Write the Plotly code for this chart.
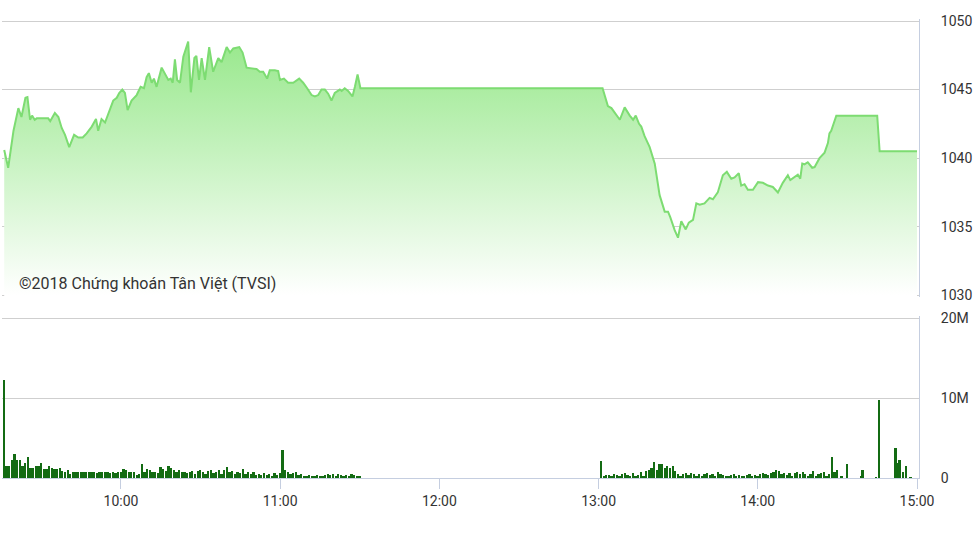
import plotly.graph_objects as go
import pandas as pd

DATE = "2018-06-01"

# ---- price (VN-Index intraday) ----
price_times = [
    "09:16:00", "09:17:30", "09:19:30", "09:21:20", "09:22:30", "09:24:00", "09:24:45", "09:25:45",
    "09:26:30", "09:27:30", "09:28:15", "09:32:35", "09:33:20", "09:35:05", "09:36:25", "09:37:40",
    "09:38:55", "09:40:30", "09:42:20", "09:43:55", "09:45:35", "09:47:05", "09:49:00", "09:50:35",
    "09:51:25", "09:52:40", "09:54:00", "09:55:35", "09:57:05", "09:58:25", "09:59:20", "10:00:30",
    "10:01:30", "10:02:30", "10:04:00", "10:05:55", "10:07:25", "10:08:40", "10:09:40", "10:10:30",
    "10:11:35", "10:12:25", "10:13:25", "10:15:20", "10:16:35", "10:17:50", "10:18:45", "10:19:30",
    "10:20:20", "10:21:10", "10:22:15", "10:23:30", "10:25:20", "10:26:20", "10:27:40", "10:28:25",
    "10:29:25", "10:30:25", "10:31:40", "10:33:15", "10:34:45", "10:36:40", "10:37:55", "10:39:50",
    "10:41:05", "10:42:20", "10:44:35", "10:45:50", "10:47:20", "10:49:15", "10:51:05", "10:52:20",
    "10:53:35", "10:55:05", "10:56:05", "10:58:00", "10:59:15", "10:59:55", "11:01:25", "11:03:00",
    "11:04:55", "11:07:10", "11:08:40", "11:10:10", "11:11:50", "11:13:05", "11:14:20", "11:15:35",
    "11:16:50", "11:18:05", "11:19:20", "11:20:35", "11:22:30", "11:23:10", "11:24:20", "11:25:35",
    "11:27:15", "11:28:10", "11:29:10", "11:30:15",
    "13:01:30", "13:03:30", "13:04:50", "13:08:00", "13:09:50", "13:11:45", "13:13:00", "13:14:00",
    "13:15:15", "13:16:05", "13:17:20", "13:19:15", "13:21:10", "13:23:00", "13:24:55", "13:26:10",
    "13:27:00", "13:28:40", "13:29:55", "13:31:10", "13:32:50", "13:34:00", "13:35:35", "13:36:50",
    "13:38:05", "13:39:55", "13:41:50", "13:43:05", "13:44:55", "13:46:50", "13:48:20", "13:50:00",
    "13:51:15", "13:52:50", "13:53:45", "13:55:00", "13:56:15", "13:58:10", "14:00:05", "14:01:55",
    "14:03:50", "14:05:40", "14:07:35", "14:09:25", "14:11:20", "14:12:15", "14:13:50", "14:15:05",
    "14:16:00", "14:16:45", "14:17:35", "14:18:50", "14:20:30", "14:21:25", "14:23:15", "14:25:10",
    "14:26:25", "14:27:00", "14:27:40", "14:29:35", "14:45:00", "14:45:55", "15:00:00",
]
price_values = [
    1040.6, 1039.3, 1042.0, 1043.65, 1043.0, 1044.4, 1044.45, 1042.8,
    1043.1, 1042.8, 1042.9, 1042.9, 1042.7, 1043.3, 1043.0, 1042.2,
    1041.7, 1040.8, 1041.7, 1041.5, 1041.5, 1041.8, 1042.3, 1042.85,
    1042.0, 1042.85, 1042.6, 1043.5, 1044.2, 1044.4, 1044.75, 1045.0,
    1044.75, 1043.5, 1044.2, 1044.6, 1045.2, 1045.1, 1045.9, 1046.2,
    1045.5, 1045.8, 1045.2, 1046.6, 1046.1, 1045.7, 1045.8, 1045.5,
    1047.2, 1045.7, 1045.5, 1047.4, 1048.5, 1044.8, 1047.3, 1047.45,
    1045.7, 1047.3, 1045.7, 1048.1, 1046.3, 1047.3, 1047.0, 1048.1,
    1047.7, 1048.0, 1048.1, 1047.7, 1046.6, 1046.55, 1046.5, 1046.3,
    1046.3, 1045.8, 1046.4, 1046.4, 1046.35, 1045.7, 1045.8, 1045.5,
    1045.5, 1045.8, 1045.5, 1045.1, 1044.6, 1044.5, 1044.6, 1045.0,
    1045.0, 1044.7, 1044.2, 1044.75, 1045.0, 1044.9, 1045.1, 1044.9,
    1044.5, 1045.2, 1046.1, 1045.1,
    1045.1, 1043.8, 1043.65, 1042.8, 1043.7, 1043.1, 1042.8, 1043.1,
    1042.5, 1042.3, 1041.6, 1040.8, 1039.6, 1037.3, 1036.1, 1036.1,
    1035.7, 1034.75, 1034.2, 1035.4, 1034.8, 1035.3, 1035.5, 1036.7,
    1036.6, 1036.7, 1037.1, 1037.0, 1037.5, 1038.75, 1039.0, 1038.5,
    1038.6, 1038.9, 1038.0, 1038.1, 1037.7, 1037.7, 1038.25, 1038.2,
    1038.0, 1037.9, 1037.5, 1038.2, 1038.75, 1038.4, 1038.6, 1038.8,
    1038.5, 1039.6, 1039.55, 1039.7, 1039.3, 1039.35, 1040.0, 1040.4,
    1041.1, 1041.8, 1042.0, 1043.1, 1043.1, 1040.5, 1040.5,
]

# ---- volume (millions of shares), one bar per minute ----
vol_am_start = "09:16"
vol_am = [
    12.2,
    1.5, 1.5, 2.2, 3.0, 2.2, 2.2, 1.5, 1.9, 2.6, 1.2, 1.2, 1.5, 1.5, 1.9, 1.1,
    1.1, 1.5, 1.2, 1.1, 1.1, 1.2, 0.9, 0.7, 1.0, 0.5, 0.7, 0.8, 0.8, 0.7, 0.7,
    0.7, 0.8, 0.7, 0.7, 0.6, 0.7, 0.8, 0.7, 0.7, 0.6, 0.7, 0.6, 0.7,
    0.7, 1.1, 1.0, 0.8, 0.8, 0.75, 0.4, 0.5, 1.8, 0.8, 1.1, 1.0, 0.8, 0.7, 0.6,
    1.4, 1.1, 0.9, 1.5, 1.2, 1.0, 0.8, 1.0, 0.8, 0.7,
    0.6, 0.8, 0.9, 0.5, 0.9, 1.0, 0.8, 0.5, 0.9, 1.0, 0.6, 0.8, 1.0, 0.5, 1.0,
    1.4, 0.8, 0.9, 0.5, 0.8, 0.6, 1.1, 0.5, 0.8, 0.5, 0.7, 0.4, 0.5, 0.4, 0.6,
    0.4, 0.5, 0.3, 0.6, 0.4, 0.6,
    3.5, 1.0, 0.8, 0.5, 0.6, 0.8, 0.4, 0.5, 0.3, 0.3, 0.4, 0.3, 0.3, 0.4, 0.3,
    0.2, 0.4, 0.5, 0.4, 0.5, 0.3, 0.5, 0.4, 0.2, 0.4, 0.3, 0.5, 0.4, 0.3, 0.2,
]
vol_pm_start = "13:01"
vol_pm = [
    2.15, 0.3, 0.4, 0.4, 0.3, 0.5, 0.4, 0.3, 0.5, 0.6, 0.4, 0.3, 0.6, 0.3, 0.4,
    0.7, 0.3, 0.9, 1.0, 1.2,
    1.95, 1.0, 1.8, 1.8, 1.2, 1.5, 1.3, 1.5, 0.9, 0.5, 0.3, 0.5, 0.6, 0.4, 0.6,
    0.5, 0.3, 0.5, 0.3, 0.5,
    0.6, 0.4, 0.5, 0.3, 0.7, 0.5, 0.4, 0.3, 0.3, 0.4, 0.5, 0.3, 0.4, 0.3, 0.3,
    0.4, 0.5, 0.3, 0.4, 0.3,
    0.5, 0.6, 0.5, 0.4, 0.6, 0.75, 1.05, 0.85, 0.5, 0.6, 0.4, 0.6, 0.3, 0.6, 0.75,
    0.5, 0.75, 0.5, 0.2, 0.5, 0.85, 0.3, 0.5, 0.6, 0.8, 0.3, 0.5, 2.6, 0.8, 1.0,
]
vol_late_times = ["14:31:40", "14:33:50", "14:39:00", "14:39:30", "14:44:30", "14:45:40",
                  "14:52:00", "14:52:35", "14:53:30", "14:54:45", "14:55:50", "14:57:40"]
vol_late = [0.3, 1.8, 0.3, 1.05, 0.1, 9.75, 3.7, 1.9, 2.2, 0.7, 1.5, 0.1]

price_tick_vals = [1030, 1035, 1040, 1045, 1050]
vol_tick_vals = [0, 10, 20]
vol_tick_text = ["0", "10M", "20M"]
x_tick_labels = ["10:00", "11:00", "12:00", "13:00", "14:00", "15:00"]
credit = "©2018 Chứng khoán Tân Việt (TVSI)"

# ---- build ----
px = pd.to_datetime([f"{DATE} {t}" for t in price_times])
am_t = pd.date_range(f"{DATE} {vol_am_start}", periods=len(vol_am), freq="min")
pm_t = pd.date_range(f"{DATE} {vol_pm_start}", periods=len(vol_pm), freq="min")
late_t = pd.to_datetime([f"{DATE} {t}" for t in vol_late_times])
vol_t = list(am_t) + list(pm_t) + list(late_t)
vol_v = vol_am + vol_pm + vol_late

FONT = "Roboto, 'Open Sans', Arial, sans-serif"
GRID = "#cfcfcf"
AXL = "#c5cee0"

fig = go.Figure()
fig.add_trace(go.Scatter(
    x=px, y=price_values, mode="lines",
    line=dict(color="#7ddc72", width=2),
    fill="tozeroy",
    fillgradient=dict(type="vertical", start=1030, stop=1048.6,
                      colorscale=[[0, "rgba(255,255,255,1)"], [1, "rgba(152,232,140,1)"]]),
    xaxis="x", yaxis="y", hoverinfo="skip", showlegend=False,
))
fig.add_trace(go.Bar(
    x=vol_t, y=vol_v, marker=dict(color="#136b13", line=dict(width=0)),
    width=40000, xaxis="x2", yaxis="y2", showlegend=False, hoverinfo="skip",
))

xr = [f"{DATE} 09:15:10", f"{DATE} 15:00:45"]
tickv = [pd.Timestamp(f"{DATE} {t}") for t in x_tick_labels]

fig.update_layout(
    width=979, height=550,
    margin=dict(l=2, r=60, t=19, b=72),
    paper_bgcolor="white", plot_bgcolor="white",
    font=dict(family=FONT, size=14, color="#333333"),
    bargap=0,
    xaxis=dict(domain=[0, 1], range=xr, type="date", anchor="y",
               showticklabels=False, showgrid=False, showline=False, zeroline=False,
               matches="x2"),
    yaxis=dict(domain=[0.3937, 1], range=[1029.854, 1050.146], side="right",
               tickvals=price_tick_vals, showgrid=True, gridcolor=GRID, gridwidth=1,
               zeroline=False, showline=True, linecolor=AXL, linewidth=1,
               ticks="", ticklabelstandoff=18,
               tickfont=dict(family=FONT, size=14, color="#333333")),
    xaxis2=dict(domain=[0, 1], range=xr, type="date", anchor="y2",
                tickvals=tickv, ticktext=x_tick_labels,
                showgrid=False, showline=True, linecolor=AXL, linewidth=1,
                ticks="outside", ticklen=10, tickcolor=AXL, tickwidth=1,
                zeroline=False,
                tickfont=dict(family=FONT, size=14, color="#333333")),
    yaxis2=dict(domain=[0, 0.3529], range=[0, 20.25], side="right", anchor="x2",
                tickvals=vol_tick_vals, ticktext=vol_tick_text,
                showgrid=True, gridcolor=GRID, gridwidth=1, zeroline=False,
                showline=True, linecolor=AXL, linewidth=1,
                ticks="", ticklabelstandoff=18,
                tickfont=dict(family=FONT, size=14, color="#333333")),
    annotations=[dict(text=credit, xref="paper", yref="paper",
                      x=0.0165, y=0.4248, xanchor="left", yanchor="middle",
                      showarrow=False,
                      font=dict(family=FONT, size=16, color="#333333"))],
)

fig.write_html("out.html",
               config={"displayModeBar": False},
               post_script="document.body.style.margin='0px';document.body.style.overflow='hidden';")
